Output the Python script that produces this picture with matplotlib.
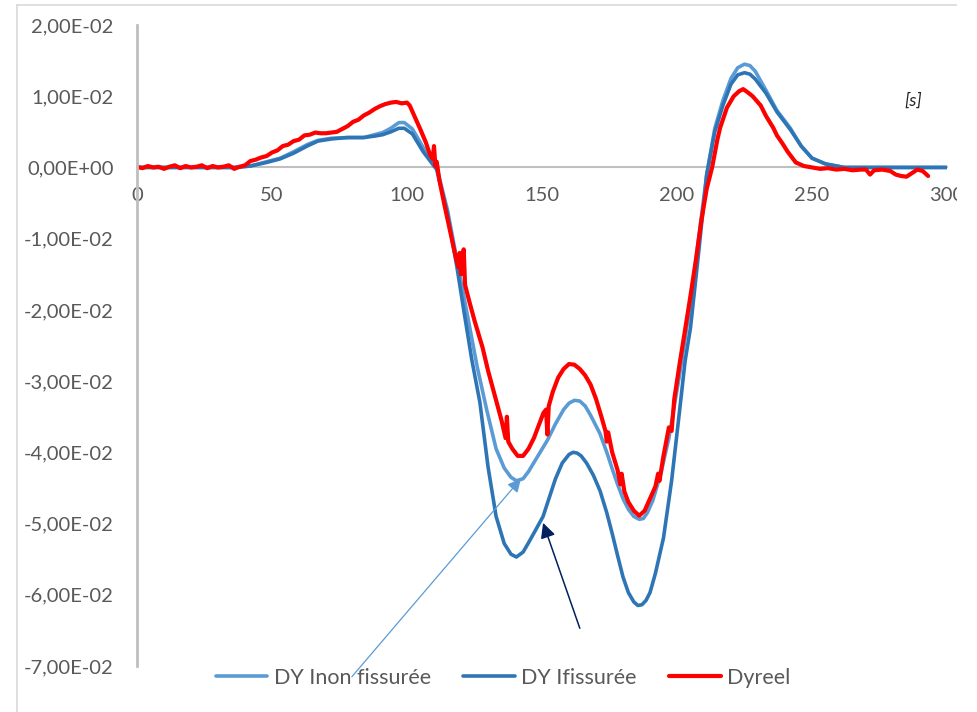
import numpy as np
import matplotlib
matplotlib.use("Agg")
import matplotlib.pyplot as plt
from matplotlib.ticker import FixedLocator, FuncFormatter
from matplotlib.lines import Line2D
from matplotlib.patches import Rectangle

plt.rcParams['font.family'] = ['Lato', 'DejaVu Sans']

# --- Données ---
# DY Inon fissurée (bleu clair)
t_inon = [0, 20, 36, 42, 48, 53, 58, 63, 67, 72, 78, 84, 88, 91, 94, 97, 99, 102, 106, 109,
          111, 115, 118.5, 122, 126, 129.5, 133, 136, 138.5, 140.5, 143, 145, 148.5, 152, 155,
          158, 160, 162, 164, 166, 168, 171.5, 174, 176, 178, 180, 182, 184, 186, 187.5, 189,
          191, 194, 197, 201, 205, 208, 211, 214, 217, 220, 222.5, 225, 227, 229, 233, 237,
          242, 246, 250, 255, 262, 280, 301]
dy_inon = [0, 0, 0, 0.0002, 0.0008, 0.0013, 0.0022, 0.0032, 0.0038, 0.0041, 0.0042, 0.0042,
           0.0046, 0.0049, 0.0055, 0.0063, 0.0063, 0.0054, 0.0028, 0.0010,
           0.0, -0.006, -0.013, -0.020, -0.028, -0.034, -0.0395, -0.0422, -0.0435, -0.0440,
           -0.0437, -0.0427, -0.0405, -0.0383, -0.0360, -0.0340, -0.0331, -0.0327, -0.0328,
           -0.0335, -0.0348, -0.0374, -0.0400, -0.0423, -0.0445, -0.0465, -0.0480, -0.0490,
           -0.0494, -0.0493, -0.0485, -0.0468, -0.0430, -0.0380, -0.0290, -0.0190, -0.0100,
           -0.0010, 0.0055, 0.0094, 0.0125, 0.0140, 0.0145, 0.0143, 0.0135, 0.0108, 0.0080,
           0.0055, 0.0030, 0.0013, 0.0005, 0.0, 0.0, 0.0]

# DY Ifissurée (bleu foncé)
t_fiss = [0, 20, 36, 42, 48, 53, 58, 63, 67, 72, 78, 84, 88, 91, 94, 97, 99, 102, 106, 109,
          111, 115, 118.5, 121, 124, 127, 130, 133, 136, 138.5, 140.5, 143, 145, 147.5, 150.4,
          153, 155, 157.5, 160, 161.5, 163, 164.5, 166.5, 169, 171.5, 174, 176, 178, 180, 182,
          184, 185.5, 187, 188.5, 190, 192, 195, 198, 201, 203, 205, 208, 211, 214, 217, 220,
          222.5, 225, 227, 229, 233, 237, 242, 246, 250, 255, 262, 280, 301]
dy_fiss = [0, 0, 0, 0.0002, 0.0007, 0.0012, 0.0020, 0.0030, 0.0037, 0.0040, 0.0042, 0.0042,
           0.0044, 0.0046, 0.0050, 0.0055, 0.0055, 0.0047, 0.0022, 0.0007,
           -0.0003, -0.0065, -0.0140, -0.0200, -0.0270, -0.0330, -0.0420, -0.0490, -0.0528,
           -0.0543, -0.0547, -0.0540, -0.0527, -0.0510, -0.0490, -0.0460, -0.0437, -0.0415,
           -0.0403, -0.0400, -0.0401, -0.0405, -0.0415, -0.0432, -0.0454, -0.0485, -0.0514,
           -0.0545, -0.0575, -0.0597, -0.0610, -0.0615, -0.0614, -0.0608, -0.0597, -0.0570,
           -0.0520, -0.0440, -0.0340, -0.0272, -0.0225, -0.0120, -0.0010, 0.0050, 0.0087,
           0.0117, 0.0130, 0.0133, 0.0131, 0.0124, 0.0104, 0.0078, 0.0053, 0.0030, 0.0013,
           0.0005, 0.0, 0.0, 0.0]

# Dyreel (rouge, mesure)
t_reel = [0, 2, 4, 6, 8, 10, 12, 14, 16, 18, 20, 22, 24, 26, 28, 30, 32, 34, 36, 38,
          40, 42, 44, 46, 48, 50, 52, 54, 56, 58, 60, 62, 64, 66, 68, 70, 72, 74, 76, 78,
          80, 82, 84, 86, 88, 90, 92, 94, 96, 98, 100, 101, 103, 105, 107, 108.5, 109.5,
          110, 110.5, 111, 112, 114, 116, 118, 119, 119.5, 120, 121, 121.5, 123, 125, 128,
          130, 133, 135, 136.5, 137, 137.5, 139, 141, 143, 145, 147, 149, 150.5, 151.5, 152,
          152.5, 154, 156, 158, 160, 162, 164, 166, 168, 170, 172, 173.5, 174, 174.5, 176,
          178, 179, 179.5, 180.5, 182, 184, 186, 188, 190, 192, 193, 193.5, 195, 197, 198,
          199, 201, 203, 205, 207, 209, 211, 213, 215, 216, 218.5, 221, 223, 224.5, 226, 228,
          231, 233, 235.6, 237, 239, 241, 244, 247, 250, 253, 256, 259, 262, 265, 268, 270,
          271.5, 273, 276, 279, 281, 283, 285, 287, 289, 291, 293]
dy_reel = [0.0001, -0.0001, 0.0002, 0.0000, 0.0001, -0.0002, 0.0001, 0.0003, -0.0001, 0.0002,
           0.0000, 0.0001, 0.0003, -0.0001, 0.0002, 0.0000, 0.0001, 0.0003, -0.0002, 0.0001,
           0.0003, 0.0009, 0.0011, 0.0014, 0.0016, 0.0021, 0.0024, 0.0030, 0.0032, 0.0037,
           0.0039, 0.0045, 0.0046, 0.0049, 0.0048, 0.0048, 0.0049, 0.0050, 0.0054, 0.0058,
           0.0064, 0.0067, 0.0073, 0.0077, 0.0082, 0.0086, 0.0089, 0.0091, 0.0092, 0.0090,
           0.0091, 0.0087, 0.0070, 0.0053, 0.0035, 0.0018, 0.0012,
           0.0030, 0.0002, 0.0008, -0.0018, -0.0055, -0.0090, -0.0125, -0.0140, -0.0120,
           -0.0150, -0.0115, -0.0165, -0.0187, -0.0215, -0.0253,
           -0.0285, -0.0327, -0.0355, -0.0380, -0.0350, -0.0385, -0.0395, -0.0405, -0.0405,
           -0.0395, -0.0380, -0.0360, -0.0345, -0.0340, -0.0375,
           -0.0335, -0.0315, -0.0295, -0.0283, -0.0276, -0.0277, -0.0283, -0.0292, -0.0305,
           -0.0325, -0.0350, -0.0370, -0.0385, -0.0372, -0.0400,
           -0.0425, -0.0445, -0.0430, -0.0455, -0.0470, -0.0482, -0.0489, -0.0482, -0.0465,
           -0.0448, -0.0430, -0.0440, -0.0405, -0.0365, -0.0370,
           -0.0325, -0.0275, -0.0228, -0.0180, -0.0130, -0.0075, -0.0030, 0.0000, 0.0040,
           0.0056, 0.0084, 0.0100, 0.0107, 0.0110, 0.0106, 0.0100,
           0.0087, 0.0072, 0.0056, 0.0045, 0.0034, 0.0022, 0.0007, 0.0002, 0.0000, -0.0002,
           -0.0001, -0.0003, -0.0002, -0.0004, -0.0003, -0.0003,
           -0.0010, -0.0004, -0.0003, -0.0005, -0.0010, -0.0012, -0.0013, -0.0008, -0.0003,
           -0.0005, -0.0012]

y_ticks = [-0.07, -0.06, -0.05, -0.04, -0.03, -0.02, -0.01, 0.0, 0.01, 0.02]
x_ticks = [0, 50, 100, 150, 200, 250, 300]

gris_txt = '#595959'

# --- Figure ---
fig = plt.figure(figsize=(9.77, 7.12), dpi=100)
ax = fig.add_axes([137 / 977, 46 / 712, 810 / 977, 641 / 712])

ax.plot(t_inon, dy_inon, color='#5B9BD5', lw=2.6, label='DY Inon fissurée', solid_capstyle='round')
ax.plot(t_fiss, dy_fiss, color='#2E75B6', lw=2.6, label='DY Ifissurée', solid_capstyle='round')
ax.plot(t_reel, dy_reel, color='#FF0000', lw=3.0, label='Dyreel', solid_capstyle='round')

ax.set_xlim(0, 300)
ax.set_ylim(-0.07, 0.02)

# axes style Excel : axe x à zéro, axe y gris
ax.spines['top'].set_visible(False)
ax.spines['right'].set_visible(False)
ax.spines['bottom'].set_position(('data', 0))
ax.spines['bottom'].set_color('#BFBFBF')
ax.spines['bottom'].set_linewidth(1.5)
ax.spines['bottom'].set_zorder(0.5)
ax.spines['left'].set_color('#BFBFBF')
ax.spines['left'].set_linewidth(2)

ax.yaxis.set_major_locator(FixedLocator(y_ticks))
ax.yaxis.set_major_formatter(FuncFormatter(lambda v, p: f"{v:.2E}".replace('.', ',')))
ax.xaxis.set_major_locator(FixedLocator(x_ticks))
ax.tick_params(axis='y', length=0, pad=17, labelsize=14.5, labelcolor=gris_txt)
ax.tick_params(axis='x', length=0, pad=14, labelsize=14.5, labelcolor=gris_txt)

ax.text(287.4, 0.0094, '[s]', fontsize=13, fontstyle='italic', color='#262626',
        ha='center', va='center')

# flèches d'annotation
ax.annotate('', xy=(142.2, -0.0437), xytext=(79.6, -0.0715), annotation_clip=False,
            arrowprops=dict(arrowstyle='-|>,head_length=0.8,head_width=0.4',
                            color='#5B9BD5', lw=0.9, shrinkA=0, shrinkB=0))
ax.annotate('', xy=(150.4, -0.0499), xytext=(164.0, -0.0647), annotation_clip=False,
            arrowprops=dict(arrowstyle='-|>,head_length=0.9,head_width=0.45',
                            color='#002060', lw=1.1, shrinkA=0, shrinkB=0))

# légende en bas
fig.legend(loc='center', bbox_to_anchor=(503 / 977, 1 - 678 / 712), ncol=3, frameon=False,
           fontsize=15.5, labelcolor=gris_txt, handlelength=2.4, handletextpad=0.3,
           columnspacing=1.5)

# bordure de la zone graphique (coin haut gauche) et découpe à droite
fig.add_artist(Line2D([17 / 977, 17 / 977], [0, 1 - 5 / 712], transform=fig.transFigure,
                      color='#D9D9D9', lw=1.2))
fig.add_artist(Line2D([17 / 977, 957 / 977], [1 - 5 / 712, 1 - 5 / 712], transform=fig.transFigure,
                      color='#D9D9D9', lw=1.2))
fig.add_artist(Rectangle((957 / 977, 0), 20 / 977, 1, transform=fig.transFigure,
                         facecolor='white', edgecolor='none', zorder=10))

fig.savefig('out.png', dpi=100)
